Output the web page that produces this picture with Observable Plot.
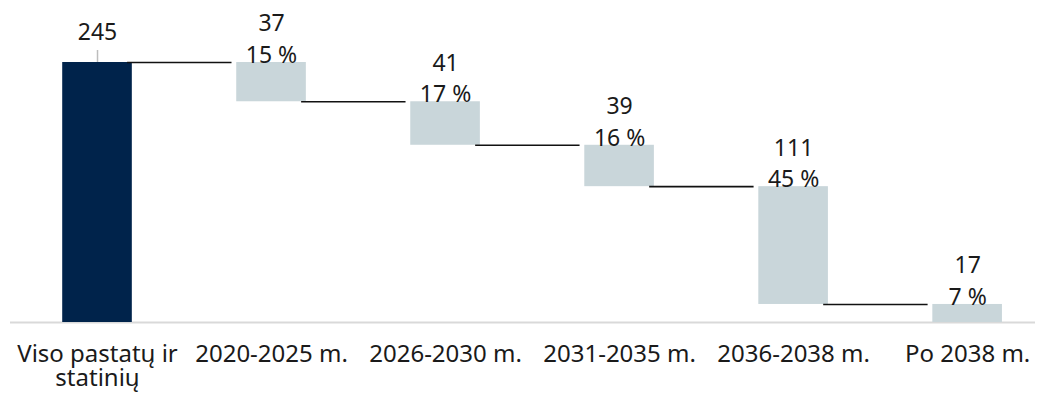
<!DOCTYPE html>
<html>
<head>
<meta charset="utf-8">
<script src="https://cdn.jsdelivr.net/npm/d3@7"></script>
<script src="https://cdn.jsdelivr.net/npm/@observablehq/plot@0.6"></script>
<style>
  html, body { margin: 0; padding: 0; background: #fff; }
  svg { overflow: visible; }
</style>
</head>
<body>
<div id="chart"></div>
<script>
// ---- data ----
const categories = ["Viso pastatų ir\nstatinių", "2020-2025 m.", "2026-2030 m.", "2031-2035 m.", "2036-2038 m.", "Po 2038 m."];
const values = [245, 37, 41, 39, 111, 17];
const shares = [null, 15, 17, 16, 45, 7];

// ---- build waterfall table ----
const rows = [];
let level = values[0];
rows.push({i: 0, y1: 0, y2: values[0], value: values[0], share: null, total: true});
for (let k = 1; k < values.length; k++) {
  const top = level;
  level = level - values[k];
  rows.push({i: k, y1: level, y2: top, value: values[k], share: shares[k], total: false});
}
const connectors = rows.slice(0, -1).map((r, k) => ({from: r.i, to: rows[k + 1].i, level: rows[k + 1].y2}));

const half = 0.2;

const chart = Plot.plot({
  width: 1038,
  height: 401,
  marginTop: 62,
  marginBottom: 79,
  marginLeft: 10,
  marginRight: 3,
  style: {fontFamily: "'Noto Sans', sans-serif", fontSize: "24px", color: "#1a1a1a", background: "#fff"},
  x: {domain: [-0.5, 5.39], axis: null},
  y: {domain: [0, values[0]], axis: null},
  marks: [
    Plot.ruleY([0], {stroke: "#d9d9d9", strokeWidth: 2}),
    Plot.rectY(rows, {
      x1: d => d.i - half, x2: d => d.i + half, y1: "y1", y2: "y2",
      fill: d => d.total ? "#00234b" : "#c9d6da"
    }),
    Plot.link(connectors, {
      x1: d => d.from + half - 0.03, x2: d => d.to - half - 0.03,
      y1: "level", y2: "level",
      stroke: "#111", strokeWidth: 1.6
    }),
    Plot.ruleX(rows.filter(d => d.total), {
      x: "i", y1: "y2", y2: "y2", insetTop: -12, stroke: "#bdbdbd", strokeWidth: 1.5
    }),
    Plot.text(rows.filter(d => !d.total), {
      x: "i", y: "y2", text: d => String(d.value), dy: -38.5, fontSize: 23, fill: "#1a1a1a"
    }),
    Plot.text(rows.filter(d => d.total), {
      x: "i", y: "y2", text: d => String(d.value), dy: -30, fontSize: 23, fill: "#1a1a1a"
    }),
    Plot.text(rows.filter(d => !d.total), {
      x: "i", y: "y2", text: d => d.share + " %", dy: -7, fontSize: 23, fill: "#1a1a1a"
    }),
    Plot.axisX(d3.range(categories.length), {
      tickSize: 0, tickPadding: 22, tickFormat: i => categories[i], label: null,
      fontSize: 24, lineHeight: 1.0, fill: "#1a1a1a"
    })
  ]
});
document.getElementById("chart").appendChild(chart);
</script>
</body>
</html>
